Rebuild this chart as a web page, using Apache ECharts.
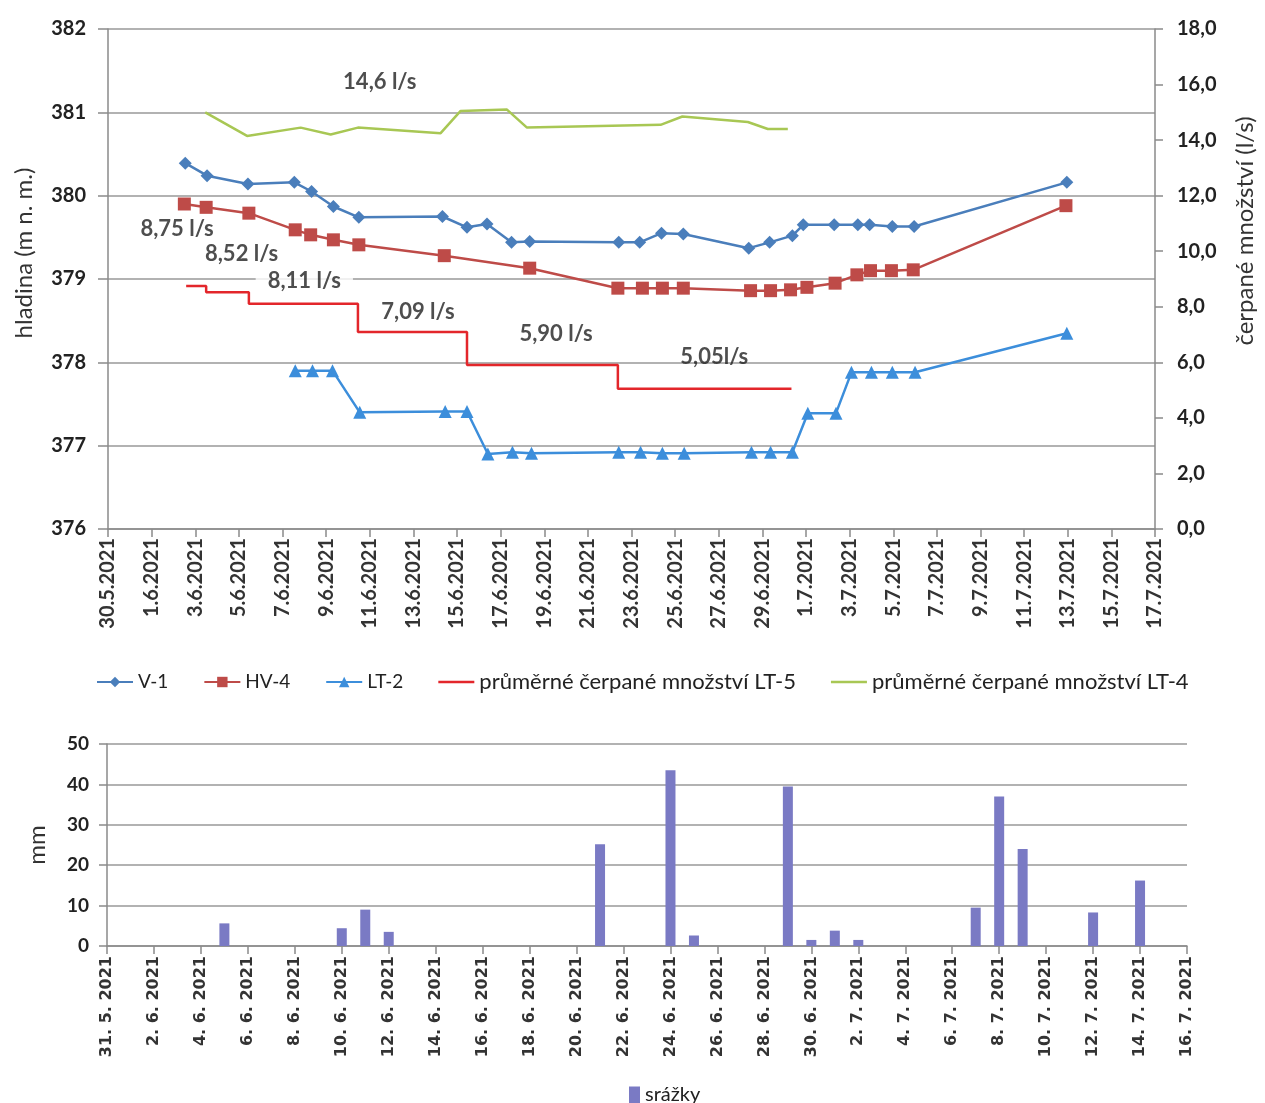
<!DOCTYPE html>
<html><head><meta charset="utf-8">
<script src="https://cdn.jsdelivr.net/npm/echarts@6/dist/echarts.min.js"></script>
<style>html,body{margin:0;padding:0;background:#fff}#c{width:1265px;height:1103px}</style>
</head><body><div id="c"></div>
<script>
// ---------- data ----------
const v1Times = ['2.6.2021 13:00','3.6.2021 13:00','5.6.2021 10:00','7.6.2021 13:00','8.6.2021 08:00','9.6.2021 08:00','10.6.2021 12:00','14.6.2021 08:00','15.6.2021 11:00','16.6.2021 09:00','17.6.2021 12:00','18.6.2021 08:00','22.6.2021 10:00','23.6.2021 09:00','24.6.2021 09:00','25.6.2021 09:00','28.6.2021 09:00','29.6.2021 08:00','30.6.2021 09:00','30.6.2021 21:00','2.7.2021 07:00','3.7.2021 09:00','3.7.2021 22:00','4.7.2021 23:00','5.7.2021 23:00','12.7.2021 23:00'];
const v1Levels = [380.39,380.24,380.14,380.16,380.05,379.87,379.74,379.75,379.62,379.66,379.44,379.45,379.44,379.44,379.55,379.54,379.37,379.44,379.52,379.65,379.65,379.65,379.65,379.63,379.63,380.16];

const hv4Times = ['2.6.2021 12:00','3.6.2021 12:00','5.6.2021 11:00','7.6.2021 14:00','8.6.2021 07:00','9.6.2021 08:00','10.6.2021 12:00','14.6.2021 10:00','18.6.2021 08:00','22.6.2021 09:00','23.6.2021 12:00','24.6.2021 10:00','25.6.2021 09:00','28.6.2021 11:00','29.6.2021 09:00','30.6.2021 07:00','1.7.2021 01:00','2.7.2021 08:00','3.7.2021 08:00','3.7.2021 23:00','4.7.2021 22:00','5.7.2021 22:00','12.7.2021 22:00'];
const hv4Levels = [379.90,379.86,379.79,379.59,379.53,379.47,379.41,379.28,379.13,378.89,378.89,378.89,378.89,378.86,378.86,378.87,378.90,378.95,379.05,379.10,379.10,379.11,379.88];

const lt2Times = ['7.6.2021 14:00','8.6.2021 09:00','9.6.2021 07:00','10.6.2021 13:00','14.6.2021 11:00','15.6.2021 11:00','16.6.2021 10:00','17.6.2021 13:00','18.6.2021 10:00','22.6.2021 10:00','23.6.2021 10:00','24.6.2021 10:00','25.6.2021 10:00','28.6.2021 12:00','29.6.2021 09:00','30.6.2021 09:00','1.7.2021 02:00','2.7.2021 09:00','3.7.2021 02:00','4.7.2021 00:00','4.7.2021 23:00','6.7.2021 00:00','12.7.2021 23:00'];
const lt2Levels = [377.90,377.90,377.90,377.40,377.41,377.41,376.90,376.92,376.91,376.92,376.92,376.91,376.91,376.92,376.92,376.92,377.39,377.39,377.88,377.88,377.88,377.88,378.35];

const lt5Times = ['2.6.2021 14:00','3.6.2021 12:00','5.6.2021 11:00','10.6.2021 11:00','15.6.2021 11:00','22.6.2021 09:00','30.6.2021 08:00'];
const lt5Rates = [8.75,8.52,8.11,7.09,5.90,5.05,5.05];

const lt4Times = ['3.6.2021 11:00','5.6.2021 09:00','7.6.2021 20:00','9.6.2021 05:00','10.6.2021 11:00','14.6.2021 06:00','15.6.2021 04:00','17.6.2021 07:00','18.6.2021 05:00','24.6.2021 08:00','25.6.2021 08:00','28.6.2021 08:00','29.6.2021 06:00','30.6.2021 04:00'];
const lt4Rates = [15.0,14.15,14.45,14.2,14.45,14.25,15.05,15.1,14.45,14.55,14.85,14.65,14.4,14.4];

const noteTexts = ['14,6 l/s','8,75 l/s','8,52 l/s','8,11 l/s','7,09 l/s','5,90 l/s','5,05l/s'];
const noteTimes = ['11.6.2021 11:00','2.6.2021 04:00','5.6.2021 03:00','8.6.2021 00:00','13.6.2021 05:00','19.6.2021 13:00','26.6.2021 19:00'];
const noteRates = [16.1,10.8,9.9,8.93,7.81,7.02,6.19];

const rainDates = ['5.6.2021','10.6.2021','11.6.2021','12.6.2021','21.6.2021','24.6.2021','25.6.2021','29.6.2021','30.6.2021','1.7.2021','2.7.2021','7.7.2021','8.7.2021','9.7.2021','12.7.2021','14.7.2021'];
const rainMm = [5.6,4.4,9.0,3.5,25.2,43.5,2.6,39.5,1.5,3.8,1.5,9.5,37.0,24.0,8.3,16.2];

const seriesNames = ['V-1','HV-4','LT-2','průměrné čerpané množství LT-5','průměrné čerpané množství LT-4'];
const rainName = 'srážky';

// ---------- helpers ----------
const BASE_TOP = Date.UTC(2021,4,30);
const BASE_BOT = Date.UTC(2021,4,31);
function dayOffset(s, base){
  const parts = s.split(' ');
  const [dd,mm,yy] = parts[0].split('.').map(Number);
  let h=0, mi=0;
  if(parts[1]){ [h,mi] = parts[1].split(':').map(Number); }
  return (Date.UTC(yy,mm-1,dd,h,mi) - base)/864e5;
}
const pairs = (t,v,base) => t.map((s,i)=>[dayOffset(s,base), v[i]]);
const fmtDate = (base, sep) => v => { const d = new Date(base + Math.round(v)*864e5); return d.getUTCDate()+sep+(d.getUTCMonth()+1)+sep+d.getUTCFullYear(); };

const FONT = 'Lato, "Open Sans", sans-serif';
const AX = '#8a8a8a', GRID = '#999', TXT = '#222';
const LINE_ICON = 'path://M0 0H40V3H0Z';

const legendData = seriesNames.map((n,i)=> i<3 ? {name:n} : {name:n, icon:LINE_ICON, textStyle:{fontSize:22}});

const chart = echarts.init(document.getElementById('c'), null, {renderer:'canvas'});
chart.setOption({
  backgroundColor:'#fff',
  animation:false,
  textStyle:{fontFamily:FONT},
  grid:[
    {left:108, right:102, top:29, height:500},
    {left:107, right:78, top:744, height:202}
  ],
  legend:[
    {data:legendData, left:91, top:666, itemWidth:36, itemHeight:13, itemGap:35,
     textStyle:{fontSize:19, color:TXT, fontFamily:FONT}},
    {data:[rainName], left:624, top:1080, itemWidth:11, itemHeight:17, icon:'rect', itemGap:4,
     textStyle:{fontSize:20, color:TXT, fontFamily:FONT}}
  ],
  xAxis:[
    {type:'value', gridIndex:0, min:0, max:48, interval:2,
     axisLine:{show:true, onZero:false, lineStyle:{color:AX, width:1.5}},
     axisTick:{show:true, length:8, lineStyle:{color:AX, width:1.5}},
     axisLabel:{rotate:90, margin:9, fontSize:20, fontWeight:'bold', color:'#333', fontFamily:FONT, formatter:fmtDate(BASE_TOP,'.')},
     splitLine:{show:false}},
    {type:'value', gridIndex:1, min:0, max:46, interval:2,
     axisLine:{show:true, onZero:false, lineStyle:{color:AX, width:1.5}},
     axisTick:{show:true, length:8, lineStyle:{color:AX, width:1.5}},
     axisLabel:{rotate:90, margin:10, fontSize:16, fontWeight:'bold', color:'#333', fontFamily:'"DejaVu Sans", sans-serif', formatter:fmtDate(BASE_BOT,'. ')},
     splitLine:{show:false}}
  ],
  yAxis:[
    {type:'value', gridIndex:0, position:'left', min:376, max:382, interval:1,
     name:'hladina (m n. m.)', nameLocation:'middle', nameGap:72, nameRotate:90,
     nameTextStyle:{fontSize:24, color:'#333', fontFamily:FONT, padding:[0,0,0,52]},
     axisLine:{show:true, lineStyle:{color:AX, width:1.5}},
     axisTick:{show:true, length:10, lineStyle:{color:AX, width:1.5}},
     axisLabel:{fontSize:20, fontWeight:'bold', color:TXT, margin:22, fontFamily:FONT},
     splitLine:{show:true, lineStyle:{color:GRID, width:1.5}}},
    {type:'value', gridIndex:0, position:'right', min:0, max:18, interval:2,
     name:'čerpané množství (l/s)', nameLocation:'middle', nameGap:78, nameRotate:90,
     nameTextStyle:{fontSize:24, color:'#333', fontFamily:FONT, padding:[0,0,0,96]},
     axisLine:{show:true, lineStyle:{color:AX, width:1.5}},
     axisTick:{show:true, length:8, lineStyle:{color:AX, width:1.5}},
     axisLabel:{fontSize:20, fontWeight:'bold', color:TXT, margin:22, fontFamily:FONT,
       formatter:v=>v.toFixed(1).replace('.',',')},
     splitLine:{show:false}},
    {type:'value', gridIndex:1, position:'left', min:0, max:50, interval:10,
     name:'mm', nameLocation:'middle', nameGap:58, nameRotate:90,
     nameTextStyle:{fontSize:24, color:'#333', fontFamily:FONT},
     axisLine:{show:true, lineStyle:{color:AX, width:1.5}},
     axisTick:{show:true, length:8, lineStyle:{color:AX, width:1.5}},
     axisLabel:{fontSize:19, fontWeight:'bold', color:TXT, margin:18, fontFamily:FONT},
     splitLine:{show:true, lineStyle:{color:GRID, width:1.5}}}
  ],
  series:[
    {name:seriesNames[0], type:'line', xAxisIndex:0, yAxisIndex:0, data:pairs(v1Times,v1Levels,BASE_TOP),
     symbol:'diamond', symbolSize:13, color:'#4A7EBB', lineStyle:{width:2.5}, z:5},
    {name:seriesNames[1], type:'line', xAxisIndex:0, yAxisIndex:0, data:pairs(hv4Times,hv4Levels,BASE_TOP),
     symbol:'rect', symbolSize:13, color:'#BE4B48', lineStyle:{width:2.5}, z:5},
    {name:seriesNames[2], type:'line', xAxisIndex:0, yAxisIndex:0, data:pairs(lt2Times,lt2Levels,BASE_TOP),
     symbol:'triangle', symbolSize:13, color:'#3C8EDB', lineStyle:{width:2.5}, z:5},
    {name:seriesNames[3], type:'line', xAxisIndex:0, yAxisIndex:1, data:pairs(lt5Times,lt5Rates,BASE_TOP),
     step:'end', symbol:'none', color:'#E3262B', lineStyle:{width:2.5}, z:4},
    {name:seriesNames[4], type:'line', xAxisIndex:0, yAxisIndex:1, data:pairs(lt4Times,lt4Rates,BASE_TOP),
     symbol:'none', color:'#A8C754', lineStyle:{width:2.5}, z:4},
    {name:'notes', type:'scatter', xAxisIndex:0, yAxisIndex:1, silent:true, symbolSize:1,
     itemStyle:{color:'rgba(0,0,0,0)'}, z:10,
     label:{show:true, position:'inside', formatter:p=>p.name, fontSize:22, fontWeight:'bold', color:TXT, fontFamily:FONT},
     data:noteTexts.map((t,i)=>{
       const d = {name:t, value:[dayOffset(noteTimes[i],BASE_TOP), noteRates[i]]};
       if(t==='8,11 l/s'){ d.label = {backgroundColor:'#fff', padding:[3,12]}; }
       return d;
     })},
    {name:rainName, type:'bar', xAxisIndex:1, yAxisIndex:2, barWidth:10, color:'#7A7AC4',
     data:pairs(rainDates,rainMm,BASE_BOT)}
  ]
});
</script>
</body></html>
